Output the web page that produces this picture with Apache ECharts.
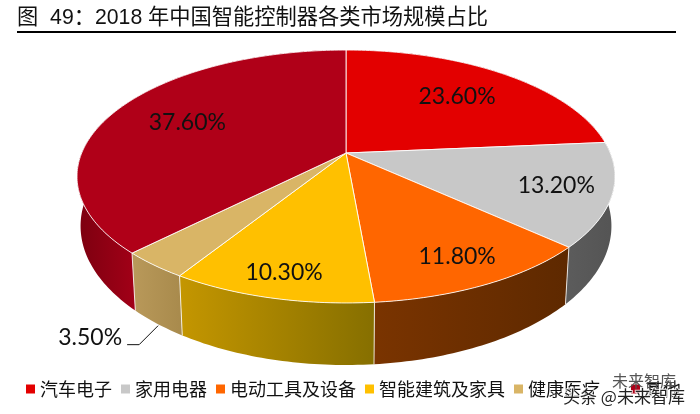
<!DOCTYPE html>
<html>
<head>
<meta charset="utf-8">
<style>
  html, body { margin: 0; padding: 0; background: #fff; }
  #chart { width: 700px; height: 414px; }
</style>
<script src="https://cdn.jsdelivr.net/npm/echarts@6/dist/echarts.min.js"></script>
</head>
<body>
<div id="chart"></div>
<script>
var categories = ['汽车电子', '家用电器', '电动工具及设备', '智能建筑及家具', '健康医疗', '其他'];
var values = [23.6, 13.2, 11.8, 10.3, 3.5, 37.6];

var topColors = ['#e30000', '#c8c8c8', '#ff6600', '#ffc000', '#d9b566', '#b00018'];
var wallColors = [
  ['#8f0000', '#8f0000'],
  ['#5c5c5c', '#545454'],
  ['#7a3400', '#5e2900'],
  ['#c49600', '#866f00'],
  ['#b9995a', '#a88a4c'],
  ['#7c0010', '#a80018']
];
// how far out along the radius each label sits; 3.50% gets a leader line instead
var labelRadii = [0.68, 0.8, 0.82, 0.85, 0, 0.68];

// perspective of the disc: top and bottom face
var cx = 346;
var topFace = { a: 264.3, b: 122.1, e: 0.1858, y0: 153 };
var bottomFace = { a: 261, b: 134.4, e: 0.182, y0: 200.7 };
var labelFont = '23px Lato, "Noto Sans", sans-serif';

function project(face, deg, r) {
  var t = deg * Math.PI / 180;
  var u = r * Math.sin(t), v = r * Math.cos(t);
  var w = 1 + face.e * v;
  return [cx + face.a * u / w, face.y0 - face.b * v / w];
}

function arc(face, from, to) {
  var pts = [];
  var n = Math.ceil(to - from);
  for (var i = 0; i <= n; i++) {
    pts.push(project(face, from + (to - from) * i / n, 1));
  }
  return pts;
}

// start and end angle of every slice, clockwise from the top
var total = values.reduce(function (s, v) { return s + v; }, 0);
var angles = [];
var sum = 0;
values.forEach(function (v) {
  angles.push([sum / total * 360, (sum + v) / total * 360]);
  sum += v;
});

function renderWall(params, api) {
  var i = params.dataIndex;
  var from = api.value(0), to = api.value(1);
  var outer = arc(topFace, from, to).concat(arc(bottomFace, from, to).reverse());
  return {
    type: 'group',
    children: [{
      type: 'polygon',
      shape: { points: outer },
      style: {
        fill: new echarts.graphic.LinearGradient(0, 0, i === 5 ? 0.25 : 1, 0, [
          { offset: 0, color: wallColors[i][0] },
          { offset: 1, color: wallColors[i][1] }
        ])
      }
    }, {
      type: 'line',
      shape: {
        x1: project(topFace, from, 1)[0], y1: project(topFace, from, 1)[1],
        x2: project(bottomFace, from, 1)[0], y2: project(bottomFace, from, 1)[1]
      },
      style: { stroke: 'rgba(255,255,255,0.8)', lineWidth: 1 }
    }]
  };
}

function renderTop(i) {
  return function (params, api) {
    var value = api.value(0), from = api.value(1), to = api.value(2);
    var mid = (from + to) / 2;
    var children = [{
      type: 'polygon',
      shape: { points: [project(topFace, 0, 0)].concat(arc(topFace, from, to)) },
      style: { fill: topColors[i], stroke: 'rgba(255,255,255,0.85)', lineWidth: 1 }
    }];
    var text = value.toFixed(2) + '%';
    if (labelRadii[i] > 0) {
      var p = project(topFace, mid, labelRadii[i]);
      children.push({
        type: 'text',
        style: { text: text, x: p[0], y: p[1], align: 'center', verticalAlign: 'middle', font: labelFont, fill: '#111' }
      });
    } else {
      var end = project(bottomFace, mid, 1);
      children.push({
        type: 'polyline',
        shape: { points: [[end[0] + 1, end[1] + 2], [end[0] - 18, end[1] + 21], [end[0] - 30, end[1] + 21]] },
        style: { stroke: '#111', lineWidth: 1, fill: null }
      });
      children.push({
        type: 'text',
        style: { text: text, x: end[0] - 67, y: end[1] + 14, align: 'center', verticalAlign: 'middle', font: labelFont, fill: '#111' }
      });
    }
    return { type: 'group', children: children };
  };
}

var series = [{
  type: 'custom',
  name: 'walls',
  coordinateSystem: 'none',
  z: 1,
  silent: true,
  renderItem: renderWall,
  data: angles
}];
categories.forEach(function (name, i) {
  series.push({
    type: 'custom',
    name: name,
    coordinateSystem: 'none',
    z: 2,
    silent: true,
    itemStyle: { color: topColors[i] },
    renderItem: renderTop(i),
    data: [[values[i], angles[i][0], angles[i][1]]]
  });
});

var legendBase = {
  orient: 'horizontal',
  top: 380,
  padding: 0,
  icon: 'rect',
  itemWidth: 9,
  itemHeight: 9,
  itemGap: 9,
  selectedMode: false,
  textStyle: { fontSize: 18, color: '#111', fontFamily: '"Noto Sans CJK SC", sans-serif' }
};

var chart = echarts.init(document.getElementById('chart'));
chart.setOption({
  animation: false,
  backgroundColor: '#fff',
  title: {
    text: '图  49：2018 年中国智能控制器各类市场规模占比',
    left: 17,
    top: 8,
    padding: 0,
    textStyle: { fontSize: 21.25, fontWeight: 'normal', color: '#111', fontFamily: '"Liberation Sans", "Noto Sans CJK SC", sans-serif' }
  },
  legend: [
    Object.assign({}, legendBase, { left: 26, data: categories.slice(0, 5) }),
    Object.assign({}, legendBase, { left: 631, data: categories.slice(5) })
  ],
  graphic: [{
    type: 'line',
    shape: { x1: 17, y1: 32, x2: 676, y2: 32 },
    style: { stroke: '#000', lineWidth: 2 }
  }, {
    type: 'text',
    z: 20,
    style: { text: '未来智库', x: 612, y: 373, font: '16px "Noto Sans CJK SC", sans-serif', fill: '#555' }
  }, {
    type: 'text',
    z: 21,
    style: { text: '头条 @未来智库', x: 563, y: 388, font: '17px "Noto Sans CJK SC", sans-serif', fill: '#222', stroke: 'rgba(255,255,255,0.8)', lineWidth: 2 }
  }],
  series: series
});
window.addEventListener('resize', function () { chart.resize(); });
</script>
</body>
</html>
